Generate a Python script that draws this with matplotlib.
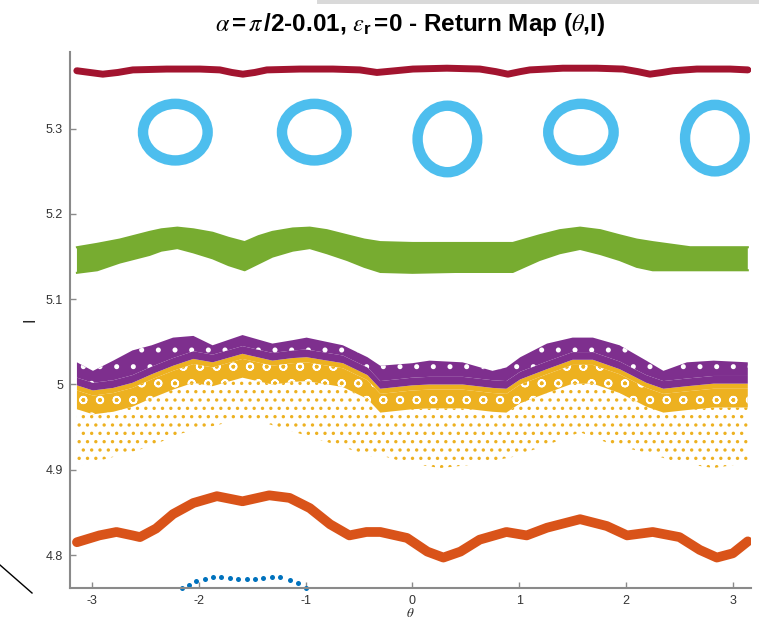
import matplotlib
matplotlib.use("Agg")
import matplotlib.pyplot as plt
from matplotlib.patches import Ellipse, Rectangle
from matplotlib.lines import Line2D

plt.rcParams['font.family'] = ['Liberation Sans', 'DejaVu Sans']
plt.rcParams['mathtext.fontset'] = 'custom'
plt.rcParams['mathtext.it'] = 'STIXGeneral:italic'
plt.rcParams['mathtext.rm'] = 'Liberation Sans'
plt.rcParams['mathtext.bf'] = 'Liberation Sans:bold'
plt.rcParams['axes.unicode_minus'] = False
plt.rcParams['hatch.linewidth'] = 1.2

# ---- orbit data (theta, I) ----
# outer rotational orbit (top)
red_theta = [-3.141, -3.02, -2.898, -2.757, -2.617, -2.299, -1.990, -1.802, -1.69, -1.587,
             -1.475, -1.362, -1.053, -0.744, -0.492, -0.332, -0.16, 0.005, 0.323, 0.632,
             0.78, 0.894, 1.01, 1.100, 1.409, 1.727, 1.971, 2.11, 2.224, 2.34, 2.439,
             2.664, 2.973, 3.141]
red_I = [5.368, 5.366, 5.364, 5.366, 5.369, 5.370, 5.370, 5.369, 5.366, 5.364,
         5.366, 5.369, 5.370, 5.370, 5.369, 5.366, 5.368, 5.370, 5.371, 5.370,
         5.367, 5.364, 5.367, 5.369, 5.371, 5.371, 5.370, 5.367, 5.364, 5.366, 5.368,
         5.370, 5.370, 5.369]

# resonance islands: centre, width, height
island_theta = [-2.219, -0.918, 0.328, 1.578, 2.832]
island_I = [5.296, 5.296, 5.288, 5.296, 5.289]
island_w = [0.605, 0.605, 0.558, 0.612, 0.558]
island_h = [0.0664, 0.0664, 0.0780, 0.0664, 0.0780]

# green band
green_theta = [-3.14, -2.95, -2.74, -2.46, -2.35, -2.2, -2.05, -1.87, -1.72, -1.57,
               -1.44, -1.31, -1.12, -0.96, -0.8, -0.61, -0.45, -0.3, 0.0, 0.4,
               0.94, 1.19, 1.38, 1.57, 1.76, 1.94, 2.1, 2.25, 2.6, 3.14]
green_top = [5.161, 5.165, 5.170, 5.179, 5.182, 5.184, 5.182, 5.178, 5.172, 5.167,
             5.174, 5.179, 5.183, 5.184, 5.181, 5.175, 5.170, 5.167, 5.166, 5.166,
             5.166, 5.175, 5.181, 5.184, 5.181, 5.175, 5.170, 5.167, 5.161, 5.161]
green_bot = [5.131, 5.134, 5.143, 5.152, 5.157, 5.160, 5.155, 5.148, 5.140, 5.134,
             5.142, 5.150, 5.157, 5.160, 5.154, 5.146, 5.138, 5.132, 5.131, 5.132,
             5.132, 5.146, 5.154, 5.159, 5.153, 5.146, 5.138, 5.134, 5.134, 5.134]

# purple band (upper chaotic layer)
purple_theta = [-3.14, -2.99, -2.80, -2.62, -2.44, -2.24, -2.05, -1.87, -1.59, -1.31,
                -1.12, -0.99, -0.65, -0.42, -0.30, 0.0, 0.16, 0.47, 0.75, 0.88,
                1.01, 1.26, 1.50, 1.69, 1.94, 2.19, 2.35, 2.57, 2.82, 3.14]
purple_top = [5.026, 5.016, 5.028, 5.040, 5.046, 5.055, 5.057, 5.046, 5.058, 5.048,
              5.052, 5.055, 5.046, 5.032, 5.022, 5.025, 5.028, 5.026, 5.016, 5.020,
              5.032, 5.048, 5.055, 5.055, 5.046, 5.028, 5.016, 5.026, 5.028, 5.026]
purple_bot = [4.999, 4.993, 4.996, 5.002, 5.012, 5.022, 5.030, 5.026, 5.036, 5.028,
              5.031, 5.032, 5.025, 5.011, 4.995, 4.999, 5.000, 5.000, 4.996, 4.995,
              5.006, 5.018, 5.029, 5.029, 5.018, 5.002, 4.995, 4.998, 5.001, 5.001]

# yellow chaotic sea: lower envelope
yellow_theta = [-3.14, -2.80, -2.49, -2.15, -1.74, -1.46, -1.02, -0.71, -0.37, -0.30,
                -0.05, 0.26, 0.57, 0.94, 1.26, 1.57, 1.88, 2.19, 2.50, 2.82, 3.14]
yellow_bot = [4.904, 4.915, 4.926, 4.943, 4.955, 4.958, 4.941, 4.929, 4.915, 4.917,
              4.908, 4.902, 4.906, 4.915, 4.929, 4.944, 4.929, 4.920, 4.908, 4.902, 4.908]

# lower rotational orbit
orange_theta = [-3.14, -2.93, -2.77, -2.62, -2.55, -2.40, -2.24, -2.05, -1.83, -1.59,
                -1.34, -1.15, -0.96, -0.77, -0.59, -0.43, -0.30, -0.05, 0.14, 0.29,
                0.45, 0.63, 0.88, 1.07, 1.26, 1.57, 1.82, 2.01, 2.25, 2.50, 2.69,
                2.85, 3.00, 3.14]
orange_I = [4.815, 4.823, 4.827, 4.823, 4.821, 4.831, 4.848, 4.861, 4.869, 4.863,
            4.870, 4.867, 4.855, 4.836, 4.823, 4.827, 4.827, 4.820, 4.804, 4.797,
            4.804, 4.818, 4.827, 4.823, 4.832, 4.842, 4.834, 4.823, 4.827, 4.821, 4.806,
            4.797, 4.802, 4.816]

# short orbit near the bottom
blue_theta = [-2.161, -2.090, -2.021, -1.943, -1.865, -1.787, -1.709, -1.631, -1.552,
              -1.475, -1.397, -1.318, -1.241, -1.147, -1.069, -0.997]
blue_I = [4.7614, 4.7654, 4.7700, 4.7723, 4.7737, 4.7737, 4.7730, 4.7723, 4.7723,
          4.7723, 4.7730, 4.7737, 4.7737, 4.7710, 4.7670, 4.7614]

x_ticks = [-3, -2, -1, 0, 1, 2, 3]
y_ticks = [4.8, 4.9, 5.0, 5.1, 5.2, 5.3]
y_ticklabels = ['4.8', '4.9', '5', '5.1', '5.2', '5.3']

C_BLUE, C_ORANGE, C_YELLOW = '#0072BD', '#D95319', '#EDB120'
C_PURPLE, C_GREEN, C_CYAN, C_RED = '#7E2F8E', '#77AC30', '#4DBEEE', '#A2142F'

fig = plt.figure(figsize=(7.59, 6.19), dpi=100)
ax = fig.add_axes([70 / 759, 1 - 588 / 619, 681 / 759, 536 / 619])

# top orbit
ax.plot(red_theta, red_I, color=C_RED, lw=5, solid_capstyle='round',
        solid_joinstyle='round')

# islands
for cx, cy, w, h in zip(island_theta, island_I, island_w, island_h):
    ax.add_patch(Ellipse((cx, cy), w, h, fill=False, edgecolor=C_CYAN, lw=7.5))

# green band
ax.fill_between(green_theta, green_bot, green_top, facecolor=C_GREEN, linewidth=0)
ax.plot(green_theta, green_top, color=C_GREEN, lw=1.5, solid_joinstyle='round')
ax.plot(green_theta, green_bot, color=C_GREEN, lw=1.5, solid_joinstyle='round')

# yellow sea: thin dense layer, lacy middle layer, sparse lower layer
y_dense = [v - 0.006 for v in purple_bot]
y_mid = [v - 0.028 for v in purple_bot]
ax.fill_between(purple_theta, y_dense, purple_bot, facecolor=C_YELLOW, linewidth=0)
ax.fill_between(purple_theta, y_mid, y_dense, facecolor=C_YELLOW,
                edgecolor='white', hatch='o', linewidth=0)
ax.fill(purple_theta + yellow_theta[::-1], y_mid + yellow_bot[::-1],
        facecolor='none', edgecolor=C_YELLOW, hatch='..', linewidth=0)

# purple layer: dense base with a lacy upper fringe
p_dense = [v + 0.009 for v in purple_bot]
ax.fill_between(purple_theta, purple_bot, p_dense, facecolor=C_PURPLE, linewidth=0)
ax.fill_between(purple_theta, p_dense, purple_top, facecolor=C_PURPLE,
                edgecolor='white', hatch='.', linewidth=0)

# lower orbit
ax.plot(orange_theta, orange_I, color=C_ORANGE, lw=7, solid_capstyle='round',
        solid_joinstyle='round')

# bottom orbit
ax.plot(blue_theta, blue_I, 'o', color=C_BLUE, ms=3.6, mec='none', clip_on=False)

ax.set_xlim(-3.205, 3.17)
ax.set_ylim(4.7613, 5.390)
ax.set_xticks(x_ticks)
ax.set_yticks(y_ticks)
ax.set_yticklabels(y_ticklabels)

for s in ('top', 'right'):
    ax.spines[s].set_visible(False)
for s in ('left', 'bottom'):
    ax.spines[s].set_color('#8a8a8a')
    ax.spines[s].set_linewidth(1.5)
ax.tick_params(direction='in', length=4, width=1, color='#8a8a8a',
               labelsize=9, labelcolor='#333333', pad=5)

ax.set_ylabel('I', fontsize=12, color='#262626', labelpad=6)
ax.set_xlabel(r'$\theta$', fontsize=9.5, color='#262626', labelpad=0)

ax.set_title(r'$\alpha\,$=$\,\pi\,$/2-0.01, $\epsilon_{\mathbf{r}}\,$=0 - Return Map ($\theta$,I)',
             fontsize=17.5, fontweight='bold', pad=15)

# frame strokes around the figure
fig.add_artist(Rectangle((317 / 759, 1 - 4 / 619), 442 / 759, 4 / 619,
                         transform=fig.transFigure, facecolor='#d9d9d9', edgecolor='none'))
fig.add_artist(Line2D([0, 32 / 759], [1 - 565 / 619, 1 - 593 / 619],
                      transform=fig.transFigure, color='black', lw=1))

fig.savefig('out.png', dpi=100)
